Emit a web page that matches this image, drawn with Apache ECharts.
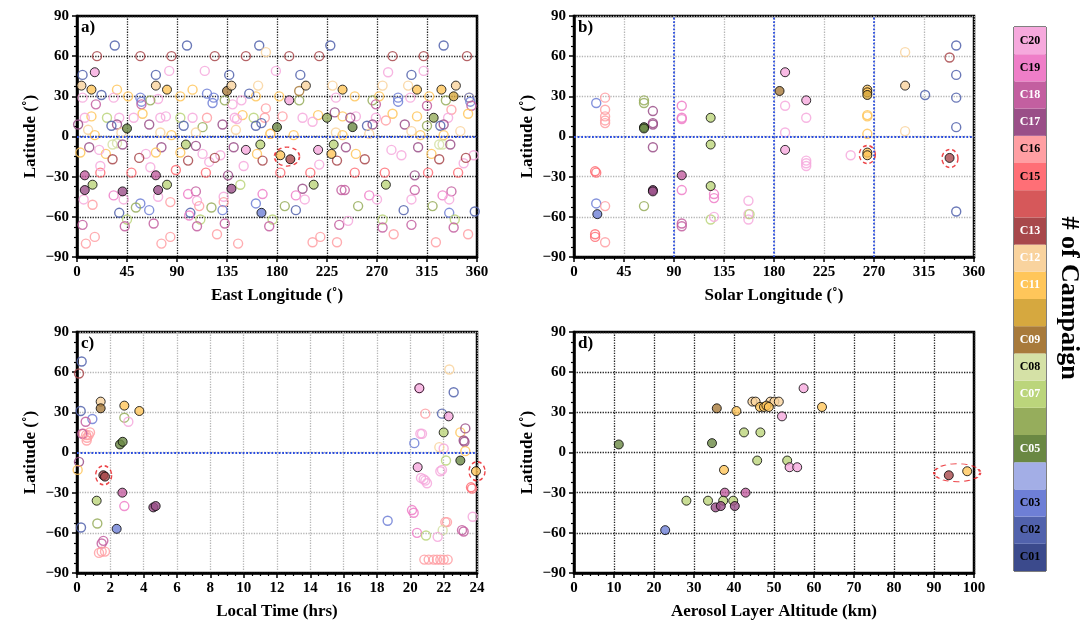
<!DOCTYPE html>
<html>
<head>
<meta charset="utf-8">
<script src="https://cdn.jsdelivr.net/npm/echarts@6/dist/echarts.min.js"></script>
<style>
  html, body { margin: 0; padding: 0; background: #fff; }
  #chart { width: 1088px; height: 621px; }
</style>
</head>
<body>
<div id="chart"></div>
<script>
// campaign colours, C01 .. C20
const campColors = ['#3b4a8c', '#5162ac', '#6e7fd6', '#a3aee6', '#6a8843', '#96ad5c', '#bbd57b', '#d5e1a6',
  '#a87a3b', '#d6a83f', '#ffc65a', '#f9d39e', '#a8484b', '#d6585a', '#ff6f76', '#ff9fa3',
  '#9a4f88', '#c35fa0', '#ef7ec8', '#f6a9dd'];
const campLabels = ['C01', 'C02', 'C03', '', 'C05', '', 'C07', 'C08', 'C09', '', 'C11', 'C12', 'C13', '',
  'C15', 'C16', 'C17', 'C18', 'C19', 'C20'];
const campLabelColors = ['#000', '#000', '#000', '#000', '#fff', '#000', '#fff', '#000', '#fff', '#000',
  '#fff', '#fff', '#fff', '#000', '#000', '#000', '#fff', '#fff', '#000', '#000'];

// a) [east longitude, latitude, campaign]
const aOpen = [
  [34,68,2],[99,68,2],[164,68,2],[228,68,2],[330,68,2],[170,63,12],
  [18,60,13],[57,60,13],[85,60,13],[124,60,13],[152,60,13],[191,60,13],[218,60,13],[284,60,13],[312,60,13],[351,60,13],
  [83,49,20],[115,49,20],[179,49,20],[280,48,20],[312,49,20],
  [5,46,2],[71,46,2],[137,46,2],[201,46,2],[301,46,2],
  [163,38,12],[230,38,12],[275,38,12],[298,38,12],
  [36,35,11],[104,35,11],[46,30,11],[93,30,11],[161,30,11],[182,30,11],[250,30,11],[272,30,11],[317,30,11],[353,29,11],
  [22,31,2],[57,29,3],[58,26,3],[117,32,3],[123,29,3],[122,25,3],[155,32,2],[289,29,3],[289,26,3],[353,29,3],[354,26,3],
  [5,29,20],[33,29,20],[73,28,20],[148,27,20],[233,29,20],[300,29,20],[140,24,20],
  [66,27,6],[133,27,6],[200,27,6],[266,27,6],[332,27,6],[200,34,9],
  [17,24,18],[58,24,18],[269,24,18],[315,23,18],[355,23,18],[232,18,17],
  [170,21,16],[185,15,16],[278,12,16],[337,20,16],[117,14,16],[169,14,16],
  [13,15,11],[59,17,11],[149,16,11],[217,16,11],[239,15,11],[284,17,11],[306,15,11],[352,17,11],
  [7,14,20],[38,14,20],[51,14,20],[75,14,20],[80,15,20],[104,14,20],[142,14,20],[144,13,20],[203,14,20],[212,11,20],
  [251,15,20],[269,14,20],[334,14,20],
  [27,14,7],[93,14,7],[159,14,7],
  [1,9,17],[36,9,17],[65,9,17],[131,9,17],[246,14,17],[266,9,17],[295,9,17],[330,9,17],
  [31,8,2],[96,8,2],[161,8,2],[166,10,2],[261,8,2],[327,8,2],[113,7,6],[315,8,6],
  [10,5,12],[40,3,12],[75,3,12],[107,3,12],[143,5,12],[174,2,12],[233,3,12],[263,2,12],[301,4,12],[345,4,12],
  [16,1,11],[85,1,11],[174,2,11],[195,1,11],[239,1,11],[309,1,11],[330,1,11],
  [326,-6,8],[329,-6,8],[32,-6,8],[36,-5,8],
  [11,-8,17],[41,-6,17],[76,-8,17],[107,-7,17],[141,-8,17],[242,-8,17],[307,-8,17],[336,-6,17],
  [3,-12,11],[26,-13,11],[71,-12,11],[93,-12,11],[162,-13,11],[251,-13,11],[319,-13,11],
  [20,-10,20],[62,-13,20],[113,-13,20],[119,-19,20],[129,-14,20],[150,-22,20],[218,-21,20],[283,-10,20],[292,-14,20],
  [348,-20,20],[357,-14,20],
  [32,-17,13],[56,-16,13],[100,-18,13],[124,-16,13],[167,-18,13],[234,-18,13],[259,-17,13],[326,-17,13],[350,-16,13],
  [21,-27,15],[49,-27,15],[89,-25,15],[116,-27,15],[183,-27,15],[210,-27,15],[250,-27,15],[277,-27,15],[316,-27,15],[343,-27,15],
  [21,-22,20],[66,-23,20],[136,-29,17],[304,-29,17],[147,-36,7],
  [107,-41,18],[238,-40,18],[241,-40,18],[304,-40,18],[337,-41,18],[203,-39,17],
  [33,-44,19],[100,-43,19],[167,-43,19],[197,-44,19],[263,-44,19],[329,-44,19],
  [6,-47,20],[42,-47,20],[73,-45,20],[108,-48,20],[132,-45,20],[205,-47,20],[270,-47,20],[301,-47,20],[335,-47,20],
  [14,-51,16],[84,-49,16],[110,-52,16],[132,-49,16],
  [38,-57,2],[57,-50,3],[65,-55,3],[102,-57,2],[131,-55,3],[161,-50,3],[197,-55,2],[294,-55,2],[335,-57,3],[358,-56,2],
  [53,-53,6],[121,-53,6],[187,-52,6],[253,-52,6],[320,-52,6],
  [45,-62,7],[111,-62,7],[176,-62,7],[275,-62,7],[340,-62,7],
  [5,-66,18],[43,-67,18],[69,-65,18],[108,-67,18],[133,-65,18],[173,-67,18],[236,-66,18],[275,-68,18],[301,-66,18],[339,-68,18],
  [101,-59,19],[244,-63,20],
  [8,-80,16],[16,-75,16],[76,-80,16],[84,-75,16],[126,-73,16],[145,-80,16],[212,-79,16],[219,-75,16],[234,-79,16],
  [285,-73,16],[323,-79,16],[352,-73,16]
];
const aFilled = [
  [16,48,20],[4,38,12],[13,35,11],[7,-29,18],[7,-40,17],[14,-36,7],[41,-41,17],[45,6,5],[71,38,12],[81,35,11],
  [71,-29,18],[73,-40,17],[81,-36,7],[98,-6,7],[135,34,9],[139,38,12],[139,-39,17],[152,-10,20],[165,-6,7],[166,-57,3],
  [180,7,5],[183,-14,11],[192,-17,13],[191,27,20],[206,38,12],[213,-36,7],[217,-10,20],[225,14,6],[229,-13,11],[231,-6,7],
  [239,35,11],[248,7,5],[278,-36,7],[306,35,11],[321,14,6],[328,35,11],[339,30,10],[341,38,12]
];

// b) [solar longitude, latitude, campaign]
const bOpen = [
  [20,25,3],[28,29,16],[28,20,16],[28,15,16],[28,12,16],[28,10,16],[20,-27,15],[19,-26,15],[20,-50,3],[28,-52,16],
  [19,-73,15],[19,-75,15],[28,-79,16],[63,27,6],[63,25,6],[71,19,17],[71,9,17],[71,10,17],[71,-8,17],[63,-52,6],
  [97,23,19],[97,14,19],[97,13,19],[97,-40,19],[97,-65,18],[97,-67,18],[126,-43,19],[126,-46,19],[123,-62,7],[126,-60,20],
  [157,-48,20],[157,-58,20],[157,-62,20],[158,-58,7],[190,23,20],[190,3,20],[209,14,20],[209,-18,20],[209,-20,20],[209,-22,20],
  [249,-14,20],[264,16,11],[264,15,11],[264,2,11],[298,63,12],[298,4,12],[316,31,2],[338,59,13],
  [344,68,2],[344,46,2],[344,29,2],[344,7,2],[344,-56,2]
];
const bFilled = [
  [21,-58,3],[63,7,5],[63,6,5],[71,-40,17],[71,-41,17],[97,-29,18],[123,14,7],[123,-6,7],[123,-37,7],[185,34,9],
  [190,48,20],[190,-10,20],[209,27,20],[264,35,11],[264,33,11],[264,31,10],[264,-12,11],[264,-14,11],[298,38,12],[338,-16,13]
];

// c) [local time (hrs), latitude, campaign]
const cOpen = [
  [0.28,68,2],[0.12,59,13],[0.22,31,2],[0.92,25,3],[2.84,26,6],[3.08,23,20],[0.52,23,18],[0.4,14,16],[0.55,13,16],
  [0.7,13,16],[0.78,15,16],[0.6,11,16],[0.32,14,18],[0.58,9,16],[0.12,-7,17],[0.04,-13,11],[2.84,-40,19],[1.22,-53,6],
  [0.24,-56,2],[1.48,-68,18],[1.58,-66,18],[1.32,-75,16],[1.48,-74,16],[1.68,-74,16],
  [22.34,62,12],[20.54,48,20],[22.6,45,2],[20.9,29,16],[21.9,29,2],[20.6,14,20],[20.7,14,20],[23,15,11],[23.3,18,17],
  [23.2,9,17],[23.25,8,17],[20.24,7,3],[21.74,4,12],[22,3,20],[23.3,1,11],[22.14,-6,7],[21.8,-14,20],[21.9,-13,20],
  [20.64,-19,20],[20.8,-20,20],[20.9,-21,20],[21.0,-23,20],[23.64,-26,15],[23.7,-27,15],[23.74,-48,20],[20.1,-43,19],
  [20.2,-45,19],[18.64,-51,3],[22.1,-52,16],[22.2,-52,16],[21.94,-58,8],[20.4,-60,19],[20.94,-62,7],[21.64,-63,20],
  [23.1,-58,18],[23.2,-59,18],[20.84,-80,16],[21.1,-80,16],[21.4,-80,16],[21.6,-80,16],[21.8,-80,16],[22.0,-80,16],[22.24,-80,16]
];
const cFilled = [
  [1.42,38,12],[1.42,33,9],[2.84,35,11],[3.74,31,11],[2.58,6,5],[2.74,8,5],[1.58,-17,13],[1.68,-18,13],[2.72,-30,18],
  [4.58,-41,17],[4.72,-40,17],[1.18,-36,7],[2.38,-57,3],
  [20.54,48,20],[22.3,27,20],[22,15,7],[23,-6,5],[20.44,-11,20],[23.94,-14,11]
];

// d) [aerosol layer altitude (km), latitude, campaign]
const dFilled = [
  [11.2,6,5],[35.7,33,9],[34.5,7,5],[40.6,31,11],[44.6,38,12],[45.4,38,12],[49.1,38,12],[50.1,38,12],[51.2,38,12],
  [46.5,34,11],[47.5,34,11],[48.1,35,11],[48.7,34,11],[52,27,20],[42.5,15,7],[46.6,15,7],[45.8,-6,7],[53.3,-6,7],
  [53.9,-11,20],[55.8,-11,20],[37.5,-13,11],[37.7,-30,18],[42.9,-30,18],[28.1,-36,7],[33.5,-36,7],[37.3,-36,7],
  [39.8,-36,7],[35.4,-41,17],[36.7,-40,17],[40.2,-40,17],[22.8,-58,3],[57.4,48,20],[62,34,11],[93.7,-17,13],[98.3,-14,11]
];

// highlighted cases (red dashed rings)
const ringA = [[189, -15]];
const ringB = [[264, -13.5], [338.4, -16.4]];
const ringC = [[1.6, -17], [24, -14]];
const ringD = [[95.8, -15.1]];

// blue reference lines
const refA = { x: [], y: [0] };
const refB = { x: [90, 180, 270], y: [0] };
const refC = { x: [], y: [0] };

const FONT = 'Liberation Serif';
const myChart = echarts.init(document.getElementById('chart'), null, { renderer: 'canvas' });

const minus = v => String(v).replace('-', '\u2212');

function mkAxis(idx, min, max, interval, minorSplit, name, gridColor, nameGap) {
  return {
    type: 'value', gridIndex: idx, min: min, max: max, interval: interval,
    name: name, nameLocation: 'middle', nameGap: nameGap,
    nameTextStyle: { fontFamily: FONT, fontWeight: 'bold', fontSize: 17, color: '#000' },
    axisLine: { show: true, onZero: false, lineStyle: { color: '#000', width: 2.5 } },
    axisTick: { show: true, inside: false, length: 5, lineStyle: { color: '#000', width: 1.5 } },
    minorTick: { show: true, splitNumber: minorSplit, length: 3, lineStyle: { color: '#000', width: 1.2 } },
    axisLabel: { show: true, margin: 8, fontFamily: FONT, fontWeight: 'bold', fontSize: 15, color: '#000',
      formatter: minus, showMinLabel: true, showMaxLabel: true, hideOverlap: false },
    splitLine: { show: true, lineStyle: { color: gridColor, type: 'dotted', width: 1.3 } }
  };
}

const grids = [
  { left: 77, top: 16, width: 400, height: 241 },
  { left: 574, top: 16, width: 400, height: 241 },
  { left: 77, top: 332, width: 400, height: 241 },
  { left: 574, top: 332, width: 400, height: 241 },
  { left: 1014, top: 27, width: 32, height: 544 }
].map((g, i) => Object.assign({
  show: true, borderColor: '#000', borderWidth: i < 4 ? 2.5 : 1, backgroundColor: 'transparent', containLabel: false
}, g));

const xAxes = [
  mkAxis(0, 0, 360, 45, 5, 'East Longitude (\u02DA)', '#222', 30),
  mkAxis(1, 0, 360, 45, 5, 'Solar Longitude (\u02DA)', '#b5b5b5', 30),
  mkAxis(2, 0, 24, 2, 4, 'Local Time (hrs)', '#b5b5b5', 30),
  mkAxis(3, 0, 100, 10, 5, 'Aerosol Layer Altitude (km)', '#222', 30),
  { type: 'category', gridIndex: 4, data: ['cb'], show: false, boundaryGap: true }
];
const yAxes = [0, 1, 2, 3].map(i =>
  mkAxis(i, -90, 90, 30, 4, 'Latitude (\u02DA)', (i === 0 || i === 3) ? '#222' : '#b5b5b5', 38));
yAxes.push({ type: 'value', gridIndex: 4, min: 0, max: 20, show: false });

function openItems(arr) {
  return arr.map(p => ({ value: [p[0], p[1]], itemStyle: { borderColor: campColors[p[2] - 1] } }));
}
function filledItems(arr) {
  return arr.map(p => ({ value: [p[0], p[1]], itemStyle: { color: campColors[p[2] - 1] } }));
}
function refLines(ref) {
  return ref.x.map(v => ({ xAxis: v })).concat(ref.y.map(v => ({ yAxis: v })));
}

const series = [];
const panels = [
  { open: aOpen, filled: aFilled, ring: ringA, ringSize: [25, 19], ref: refA },
  { open: bOpen, filled: bFilled, ring: ringB, ringSize: [16, 18], ref: refB },
  { open: cOpen, filled: cFilled, ring: ringC, ringSize: [16, 19], ref: refC },
  { open: [], filled: dFilled, ring: ringD, ringSize: [46, 18], ref: { x: [], y: [] } }
];
panels.forEach((p, i) => {
  series.push({
    type: 'scatter', xAxisIndex: i, yAxisIndex: i, symbol: 'circle', symbolSize: 9, z: 2, silent: true,
    itemStyle: { color: 'rgba(0,0,0,0)', borderWidth: 1.4, opacity: 0.85 },
    data: openItems(p.open),
    markLine: {
      silent: true, symbol: 'none', label: { show: false }, animation: false,
      lineStyle: { color: '#2a4de0', type: 'dotted', width: 1.8 },
      data: refLines(p.ref)
    }
  });
  series.push({
    type: 'scatter', xAxisIndex: i, yAxisIndex: i, symbol: 'circle', symbolSize: 9, z: 3, silent: true,
    itemStyle: { borderColor: '#000', borderWidth: 1 },
    data: filledItems(p.filled)
  });
  series.push({
    type: 'scatter', xAxisIndex: i, yAxisIndex: i, symbol: 'circle', symbolSize: p.ringSize, z: 4, silent: true,
    clip: false,
    itemStyle: { color: 'rgba(0,0,0,0)', borderColor: '#e8171b', borderWidth: 1.5, borderType: [4, 3] },
    data: p.ring
  });
});

// discrete colour bar
campColors.forEach((c, i) => {
  series.push({
    type: 'bar', xAxisIndex: 4, yAxisIndex: 4, stack: 'cb', data: [1], barWidth: '100%', silent: true,
    itemStyle: { color: c },
    label: { show: campLabels[i] !== '', position: 'inside', formatter: campLabels[i] || ' ',
      color: campLabelColors[i], fontFamily: FONT, fontWeight: 'bold', fontSize: 12 }
  });
});

const panelText = (t, x, y) => ({
  type: 'text', left: x, top: y, z: 10,
  style: { text: t, fontFamily: FONT, fontWeight: 'bold', fontSize: 17, fill: '#000' }
});

myChart.setOption({
  animation: false,
  backgroundColor: '#fff',
  grid: grids,
  xAxis: xAxes,
  yAxis: yAxes,
  series: series,
  graphic: [
    panelText('a)', 81, 19),
    panelText('b)', 578, 19),
    panelText('c)', 81, 335),
    panelText('d)', 578, 335),
    {
      type: 'text', x: 1069, y: 298, rotation: -Math.PI / 2, z: 10,
      style: { text: '# of Campaign', fontFamily: FONT, fontWeight: 'bold', fontSize: 26, fill: '#000',
        align: 'center', verticalAlign: 'middle' }
    }
  ]
});
</script>
</body>
</html>
